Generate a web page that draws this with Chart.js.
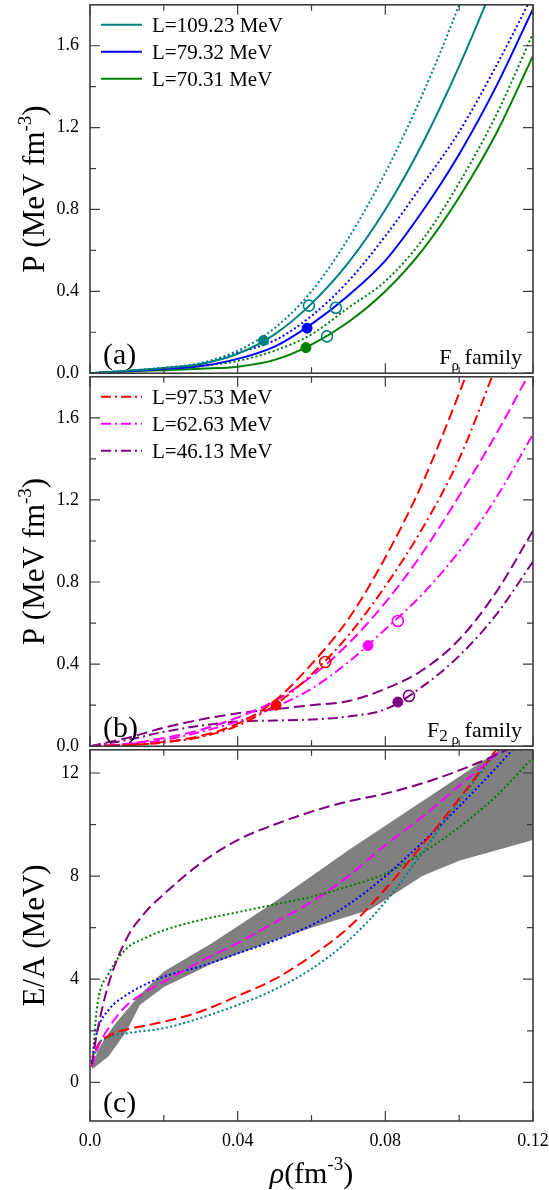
<!DOCTYPE html>
<html>
<head>
<meta charset="utf-8">
<script src="https://cdn.jsdelivr.net/npm/chart.js@4.4.1/dist/chart.umd.min.js"></script>
<style>
  html, body { margin: 0; padding: 0; background: #fff; }
  #wrap { position: relative; width: 549px; height: 1190px; overflow: hidden; }
  canvas { position: absolute; left: 0; }
</style>
</head>
<body>
<div id="wrap">
  <canvas id="chartA" width="569" height="412" style="top:-17px"></canvas>
  <canvas id="chartB" width="569" height="413" style="top:355px"></canvas>
  <canvas id="chartC" width="569" height="462" style="top:728px"></canvas>
</div>
<script>
// ---- axes / ticks
const xMajor = [0, 0.04, 0.08, 0.12];
const xMinor = [0.02, 0.06, 0.10];
const xTickLabels = ['0.0', '0.04', '0.08', '0.12'];
const pMajor = [0, 0.4, 0.8, 1.2, 1.6];
const pMinor = [0.2, 0.6, 1.0, 1.4];
const pTickLabels = ['0.0', '0.4', '0.8', '1.2', '1.6'];
const eMajor = [0, 4, 8, 12];
const eMinor = [2, 6, 10];
const eTickLabels = ['0', '4', '8', '12'];

// ---- panel (a) : F_rho family, P vs rho
const rhoA = [0, 0.01, 0.02, 0.03, 0.04, 0.05, 0.06, 0.07, 0.08, 0.09, 0.10, 0.11, 0.12];
const pTealSolid  = [0, 0.012, 0.025, 0.045, 0.095, 0.19, 0.34, 0.54, 0.80, 1.12, 1.50, 1.93, 2.40];
const pTealDot    = [0, 0.012, 0.027, 0.05, 0.11, 0.22, 0.40, 0.66, 0.98, 1.36, 1.80, 2.30, 2.85];
const pBlueSolid  = [0, 0.010, 0.020, 0.035, 0.07, 0.13, 0.24, 0.38, 0.55, 0.79, 1.07, 1.40, 1.78];
const pBlueDot    = [0, 0.011, 0.022, 0.045, 0.10, 0.16, 0.28, 0.45, 0.67, 0.92, 1.18, 1.50, 1.85];
const pGreenSolid = [0, 0.008, 0.015, 0.022, 0.032, 0.065, 0.14, 0.25, 0.40, 0.60, 0.86, 1.17, 1.55];
const pGreenDot   = [0, 0.010, 0.020, 0.035, 0.06, 0.11, 0.19, 0.32, 0.45, 0.65, 0.93, 1.26, 1.66];
const legendA = ['L=109.23 MeV', 'L=79.32 MeV', 'L=70.31 MeV'];
// markers (a)
const filledRhoA = [0.047, 0.0588, 0.0585];
const filledPA   = [0.16, 0.22, 0.125];
const filledColA = ['#008080', '#0000ff', '#008000'];
const openRhoA = [0.0593, 0.0666, 0.0642];
const openPA   = [0.33, 0.32, 0.18];

// ---- panel (b) : F2_rho family
const rhoB = [0, 0.01, 0.02, 0.03, 0.04, 0.05, 0.06, 0.07, 0.08, 0.09, 0.10, 0.11, 0.12];
const pRedDash        = [0, 0.005, 0.02, 0.05, 0.11, 0.22, 0.40, 0.62, 0.92, 1.28, 1.72, 2.20, 2.70];
const pRedDashDot     = [0, 0.005, 0.018, 0.045, 0.10, 0.20, 0.35, 0.54, 0.78, 1.06, 1.40, 1.85, 2.30];
const pMagentaDash    = [0, 0.012, 0.04, 0.08, 0.14, 0.22, 0.34, 0.50, 0.70, 0.94, 1.22, 1.52, 1.85];
const pMagentaDashDot = [0, 0.010, 0.03, 0.07, 0.12, 0.19, 0.28, 0.41, 0.57, 0.74, 0.95, 1.21, 1.52];
const pPurpleDash     = [0, 0.04, 0.09, 0.13, 0.16, 0.18, 0.20, 0.22, 0.28, 0.37, 0.52, 0.75, 1.05];
const pPurpleDashDot  = [0, 0.03, 0.07, 0.10, 0.12, 0.125, 0.13, 0.145, 0.18, 0.29, 0.44, 0.64, 0.90];
const legendB = ['L=97.53 MeV', 'L=62.63 MeV', 'L=46.13 MeV'];
const filledRhoB = [0.0504, 0.0753, 0.0834];
const filledPB   = [0.20, 0.49, 0.215];
const openRhoB = [0.0637, 0.0834, 0.0864];
const openPB   = [0.41, 0.61, 0.245];
const colB = ['#ff0000', '#ff00ff', '#800080'];

// ---- panel (c) : E/A vs rho
const rhoC = [0.0005, 0.002, 0.005, 0.01, 0.015, 0.02, 0.03, 0.04, 0.05, 0.06, 0.07, 0.08, 0.09, 0.10, 0.11, 0.12];
const ePurple  = [0.7, 2.0, 3.8, 5.6, 6.6, 7.3, 8.5, 9.4, 10.0, 10.5, 10.9, 11.2, 11.6, 12.1, 12.7, 13.4];
const eMagenta = [0.6, 1.3, 2.1, 3.0, 3.5, 3.9, 4.7, 5.4, 6.2, 7.0, 8.0, 9.2, 10.3, 11.5, 12.7, 13.9];
const eRed     = [0.6, 1.4, 1.8, 2.05, 2.2, 2.35, 2.75, 3.35, 4.0, 4.9, 6.0, 7.5, 9.2, 11.0, 12.9, 14.8];
const eTeal    = [0.6, 1.4, 1.75, 1.9, 2.0, 2.1, 2.5, 3.0, 3.6, 4.4, 5.5, 7.0, 8.9, 10.9, 12.8, 14.8];
const eBlue    = [0.8, 2.0, 2.8, 3.4, 3.8, 4.1, 4.5, 5.0, 5.5, 6.1, 6.9, 8.0, 9.3, 10.7, 12.2, 13.8];
const eGreen   = [0.6, 3.0, 4.2, 5.2, 5.6, 5.9, 6.3, 6.6, 6.9, 7.2, 7.6, 8.1, 8.9, 9.9, 11.1, 12.6];
// grey band (upper edge then lower edge)
const bandUpRho = [0.0005, 0.002, 0.004, 0.007, 0.0135, 0.02, 0.033, 0.05, 0.07, 0.09, 0.111, 0.12];
const bandUpE   = [0.5, 1.2, 1.7, 2.3, 3.4, 4.3, 5.4, 7.0, 9.0, 10.9, 12.9, 13.8];
const bandLoRho = [0.0005, 0.005, 0.01, 0.0135, 0.02, 0.033, 0.05, 0.06, 0.076, 0.09, 0.10, 0.12];
const bandLoE   = [0.5, 1.0, 2.0, 3.0, 3.7, 4.6, 5.5, 6.0, 6.7, 8.0, 8.6, 9.4];

const FONT = "'Liberation Serif', 'Times New Roman', serif";
const DOT = [2, 2.5];
const DASH = [11, 5];
const DASHDOT = [10, 4, 2, 4];

function pts(xs, ys) { return xs.map((x, i) => ({ x: x, y: ys[i] })); }

function curve(xs, ys, color, dash) {
    return {
        data: pts(xs, ys), showLine: true, borderColor: color, borderWidth: 2,
        borderDash: dash || [], pointRadius: 0, fill: false,
        cubicInterpolationMode: 'monotone'
    };
}

function markers(xs, ys, colors, filled) {
    return {
        data: pts(xs, ys), showLine: false, pointRadius: filled ? 5 : 5.5,
        pointBorderWidth: filled ? 1 : 1.6,
        pointBackgroundColor: filled ? colors : 'rgba(0,0,0,0)',
        pointBorderColor: colors
    };
}

function drawRuns(ctx, runs, x, y, align) {
    let w = 0;
    runs.forEach(r => {
        ctx.font = (r.italic ? 'italic ' : '') + r.size + 'px ' + FONT;
        r.w = ctx.measureText(r.t).width;
        w += r.w;
    });
    let cx = align === 'right' ? x - w : (align === 'center' ? x - w / 2 : x);
    runs.forEach(r => {
        ctx.font = (r.italic ? 'italic ' : '') + r.size + 'px ' + FONT;
        ctx.fillText(r.t, cx, y + (r.dy || 0));
        cx += r.w;
    });
}

// frame, inward ticks, legend and labels
function decorations(cfg) {
    return {
        id: 'deco',
        afterDraw(chart) {
            const ctx = chart.ctx, a = chart.chartArea;
            const xs = chart.scales.x, ys = chart.scales.y;
            ctx.save();
            ctx.strokeStyle = '#3c3c3c';
            ctx.lineWidth = 1.2;
            ctx.setLineDash([]);
            ctx.beginPath();
            xMajor.concat(xMinor).forEach(v => {
                const len = xMajor.includes(v) ? 10 : 6;
                const px = xs.getPixelForValue(v);
                ctx.moveTo(px, a.bottom); ctx.lineTo(px, a.bottom - len);
                ctx.moveTo(px, a.top); ctx.lineTo(px, a.top + len);
            });
            cfg.yMajor.concat(cfg.yMinor).forEach(v => {
                const len = cfg.yMajor.includes(v) ? 10 : 6;
                const py = ys.getPixelForValue(v);
                ctx.moveTo(a.left, py); ctx.lineTo(a.left + len, py);
                ctx.moveTo(a.right, py); ctx.lineTo(a.right - len, py);
            });
            ctx.stroke();
            ctx.lineWidth = 1.6;
            ctx.strokeRect(a.left, a.top, a.right - a.left, a.bottom - a.top);

            ctx.fillStyle = '#000';
            ctx.textBaseline = 'alphabetic';
            // legend
            if (cfg.legend) {
                cfg.legend.forEach((txt, i) => {
                    const y = a.top + 20 + i * 27;
                    ctx.strokeStyle = cfg.legendColors[i];
                    ctx.lineWidth = 2;
                    ctx.setLineDash(cfg.legendDash);
                    ctx.beginPath();
                    ctx.moveTo(101, y); ctx.lineTo(142, y);
                    ctx.stroke();
                    ctx.setLineDash([]);
                    drawRuns(ctx, [{ t: txt, size: 21 }], 152, y + 7, 'left');
                });
            }
            // panel tag and family label
            drawRuns(ctx, [{ t: cfg.tag, size: 30 }], 103, a.bottom - 9, 'left');
            if (cfg.family) drawRuns(ctx, cfg.family, 522, a.bottom - 9, 'right');
            // y title
            ctx.save();
            ctx.translate(44, (a.top + a.bottom) / 2);
            ctx.rotate(-Math.PI / 2);
            drawRuns(ctx, cfg.yTitle, 0, 0, 'center');
            ctx.restore();
            // x title
            if (cfg.xTitle) drawRuns(ctx, cfg.xTitle, (a.left + a.right) / 2, a.bottom + 62, 'center');
            ctx.restore();
        }
    };
}

function options(yMin, yMax, yMajor, yLabels, showX, padding) {
    return {
        responsive: false,
        animation: false,
        layout: { padding: padding },
        plugins: { legend: { display: false }, tooltip: { enabled: false } },
        scales: {
            x: {
                type: 'linear', min: 0, max: 0.12, display: showX,
                afterBuildTicks: s => { s.ticks = xMajor.map(v => ({ value: v })); },
                afterFit: s => { s.height = showX ? 69 : 0; },
                grid: { display: false, drawTicks: false },
                border: { display: false },
                ticks: {
                    padding: 9, color: '#000', maxRotation: 0, autoSkip: false,
                    font: { family: FONT, size: 18 },
                    callback: (v, i) => xTickLabels[i]
                }
            },
            y: {
                type: 'linear', min: yMin, max: yMax,
                afterBuildTicks: s => { s.ticks = yMajor.map(v => ({ value: v })); },
                afterFit: s => { s.width = 90; },
                grid: { display: false, drawTicks: false },
                border: { display: false },
                ticks: {
                    padding: 11, color: '#000',
                    font: { family: FONT, size: 18 },
                    callback: (v, i) => yLabels[i]
                }
            }
        }
    };
}

const pTitle = [{ t: 'P (MeV fm', size: 31 }, { t: '-3', size: 19, dy: -13 }, { t: ')', size: 31 }];

// panel (a)
new Chart(document.getElementById('chartA').getContext('2d'), {
    type: 'scatter',
    data: {
        datasets: [
            markers(filledRhoA, filledPA, filledColA, true),
            markers(openRhoA, openPA, '#008080', false),
            curve(rhoA, pTealSolid, '#008080'),
            curve(rhoA, pBlueSolid, '#0000ff'),
            curve(rhoA, pGreenSolid, '#008000'),
            curve(rhoA, pTealDot, '#008080', DOT),
            curve(rhoA, pBlueDot, '#0000ff', DOT),
            curve(rhoA, pGreenDot, '#008000', DOT)
        ]
    },
    options: options(0, 1.8, pMajor, pTickLabels, false, { top: 20, bottom: 20, right: 36, left: 0 }),
    plugins: [decorations({
        yMajor: pMajor, yMinor: pMinor, tag: '(a)', yTitle: pTitle,
        legend: legendA, legendColors: ['#008080', '#0000ff', '#008000'], legendDash: [],
        family: [{ t: 'F', size: 22 }, { t: 'ρ', size: 15, dy: 6 }, { t: ' family', size: 22 }]
    })]
});

// panel (b)
new Chart(document.getElementById('chartB').getContext('2d'), {
    type: 'scatter',
    data: {
        datasets: [
            markers(filledRhoB, filledPB, colB, true),
            markers(openRhoB, openPB, colB, false),
            curve(rhoB, pRedDash, '#ff0000', DASH),
            curve(rhoB, pRedDashDot, '#ff0000', DASHDOT),
            curve(rhoB, pMagentaDash, '#ff00ff', DASH),
            curve(rhoB, pMagentaDashDot, '#ff00ff', DASHDOT),
            curve(rhoB, pPurpleDash, '#800080', DASH),
            curve(rhoB, pPurpleDashDot, '#800080', DASHDOT)
        ]
    },
    options: options(0, 1.8, pMajor, pTickLabels, false, { top: 20, bottom: 20, right: 36, left: 0 }),
    plugins: [decorations({
        yMajor: pMajor, yMinor: pMinor, tag: '(b)', yTitle: pTitle,
        legend: legendB, legendColors: colB, legendDash: DASHDOT,
        family: [{ t: 'F', size: 22 }, { t: '2', size: 17, dy: 4 }, { t: ' ', size: 15 }, { t: 'ρ', size: 15, dy: 7 }, { t: ' family', size: 22 }]
    })]
});

// panel (c)
const band = {
    data: pts(bandUpRho, bandUpE).concat(pts(bandLoRho, bandLoE).reverse()),
    showLine: true, borderWidth: 0, pointRadius: 0, tension: 0,
    backgroundColor: '#808080', borderColor: '#808080', fill: 'shape'
};
new Chart(document.getElementById('chartC').getContext('2d'), {
    type: 'scatter',
    data: {
        datasets: [
            curve(rhoC, ePurple, '#800080', DASH),
            curve(rhoC, eMagenta, '#ff00ff', DASH),
            curve(rhoC, eRed, '#ff0000', DASH),
            curve(rhoC, eTeal, '#008080', DOT),
            curve(rhoC, eBlue, '#0000ff', DOT),
            curve(rhoC, eGreen, '#008000', DOT),
            band
        ]
    },
    options: options(-1.5, 12.9, eMajor, eTickLabels, true, { top: 20, bottom: 0, right: 36, left: 0 }),
    plugins: [decorations({
        yMajor: eMajor, yMinor: eMinor, tag: '(c)',
        yTitle: [{ t: 'E/A (MeV)', size: 31 }],
        xTitle: [{ t: 'ρ', size: 30, italic: true }, { t: '(fm', size: 30 }, { t: '-3', size: 19, dy: -13 }, { t: ')', size: 30 }]
    })]
});
</script>
</body>
</html>
